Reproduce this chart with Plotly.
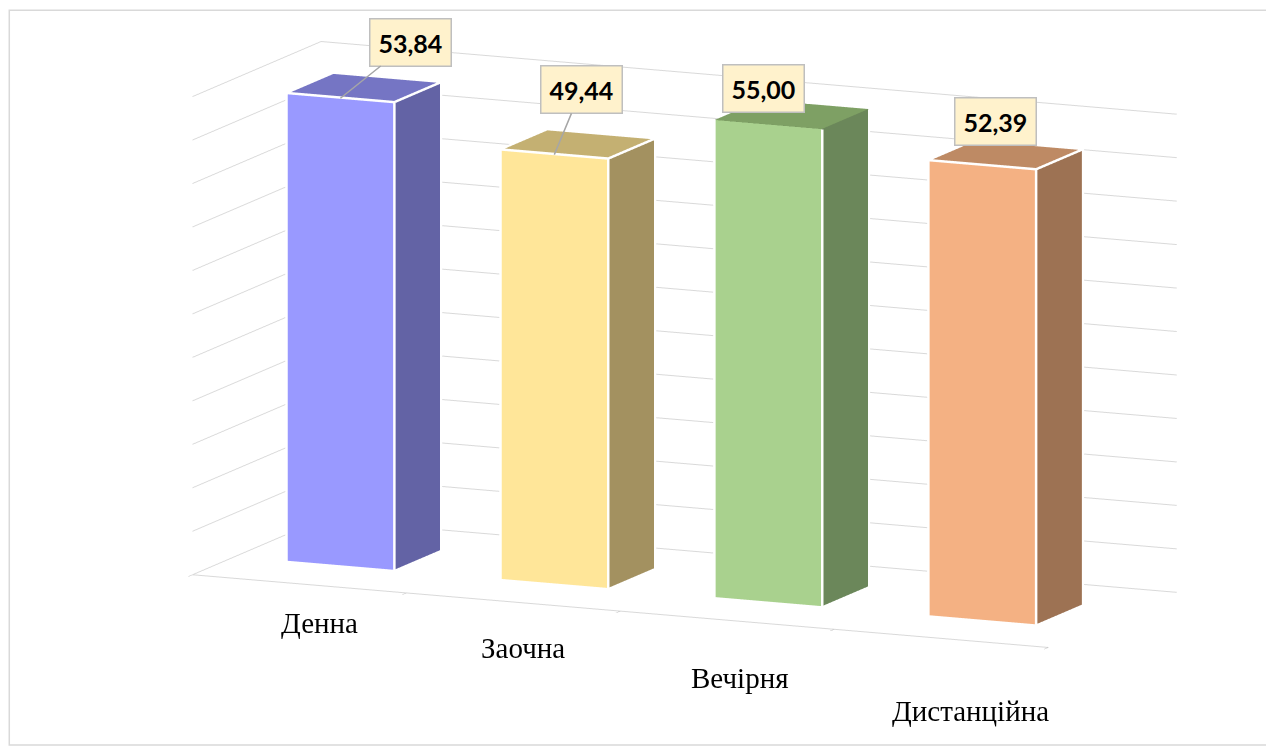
import math
import plotly.graph_objects as go

categories = ["Денна", "Заочна", "Вечірня", "Дистанційна"]
values = [53.84, 49.44, 55.00, 52.39]
value_labels = ["53,84", "49,44", "55,00", "52,39"]
front_colors = ["#9999FF", "#FFE699", "#A9D18E", "#F4B183"]
side_colors = ["#6363A5", "#A39160", "#6B875A", "#9D7253"]
top_colors = ["#7575C4", "#C4B072", "#7EA064", "#BE8A64"]

z_max = 55
z_step = 5
half_w = 0.25
depth_total = 1.35
y0b, y1b = 0.43, 0.92

fig = go.Figure()

for i, (cat, v) in enumerate(zip(categories, values)):
    xc = i + 1
    x0, x1 = xc - half_w, xc + half_w
    xs = [x0, x1, x1, x0, x0, x1, x1, x0]
    ys = [y0b, y0b, y1b, y1b, y0b, y0b, y1b, y1b]
    zs = [0, 0, 0, 0, v, v, v, v]
    tri = [
        (0, 1, 5, front_colors[i]), (0, 5, 4, front_colors[i]),
        (1, 2, 6, side_colors[i]), (1, 6, 5, side_colors[i]),
        (4, 5, 6, top_colors[i]), (4, 6, 7, top_colors[i]),
        (0, 3, 7, side_colors[i]), (0, 7, 4, side_colors[i]),
        (3, 2, 6, side_colors[i]), (3, 6, 7, side_colors[i]),
        (0, 1, 2, side_colors[i]), (0, 2, 3, side_colors[i]),
    ]
    fig.add_trace(go.Mesh3d(
        x=xs, y=ys, z=zs,
        i=[t[0] for t in tri], j=[t[1] for t in tri], k=[t[2] for t in tri],
        facecolor=[t[3] for t in tri],
        flatshading=True,
        lighting=dict(ambient=1, diffuse=0, specular=0, roughness=1, fresnel=0),
        hoverinfo="skip", showscale=False,
    ))
    path = [0, 1, 5, 4, 0, None, 4, 5, 6, 7, 4, None, 1, 2, 6]
    ex = [xs[p] + (0.004 if p in (1, 2, 5, 6) else 0) if p is not None else None for p in path]
    ey = [ys[p] - 0.004 if p is not None else None for p in path]
    ez = [zs[p] + (0.1 if zs[p] > 0 else 0) if p is not None else None for p in path]
    fig.add_trace(go.Scatter3d(
        x=ex, y=ey, z=ez, mode="lines",
        line=dict(color="white", width=5),
        hoverinfo="skip", showlegend=False,
    ))

label_offsets = [(70, -56), (27, -65), (-5, -36), (13, -44)]
arrow_cols = ["#A6A6A6", "#A6A6A6", "rgba(0,0,0,0)", "rgba(0,0,0,0)"]
cat_shifts = [(20, -39), (10, -46), (13, -58), (29, -73)]
annotations = []
for i, v in enumerate(values):
    ax, ay = label_offsets[i]
    annotations.append(dict(
        x=i + 1, y=y0b, z=v,
        text="<b>" + value_labels[i] + "</b>",
        showarrow=True, arrowhead=0, arrowwidth=1.5, arrowcolor=arrow_cols[i],
        ax=ax, ay=ay,
        bgcolor="#FFF2CC", bordercolor="#BFBFBF", borderwidth=1.5, borderpad=8,
        font=dict(family="Lato, Open Sans, sans-serif", size=25, color="black"),
    ))
for i, cat in enumerate(categories):
    xs_, ys_ = cat_shifts[i]
    annotations.append(dict(
        x=i + 1, y=0, z=0, text=cat, showarrow=False, xshift=xs_, yshift=ys_,
        font=dict(family="Liberation Serif, Times New Roman, serif", size=29, color="black"),
    ))

axis_common = dict(showbackground=False, showspikes=False, title=dict(text=""),
                   zeroline=False)

phi = math.radians(24)
theta = math.radians(11)
dist = 2.5
shift = dict(x=-0.097, y=-0.043, z=-0.101)
eye = dict(x=dist * math.sin(phi) * math.cos(theta) + shift["x"],
           y=-dist * math.cos(phi) * math.cos(theta) + shift["y"],
           z=dist * math.sin(theta) + shift["z"])

k = 0.627
fig.update_layout(
    width=1274, height=747,
    margin=dict(l=0, r=0, t=0, b=0),
    paper_bgcolor="white",
    showlegend=False,
    scene=dict(
        domain=dict(x=[0, 1], y=[0, 1]),
        xaxis=dict(range=[0.5, 4.5], showgrid=False, showline=True, linecolor="#D9D9D9",
                   linewidth=2, tickvals=[0.5, 1.5, 2.5, 3.5, 4.5], ticktext=[""] * 5,
                   ticks="outside", ticklen=20, tickwidth=2, tickcolor="#BFBFBF",
                   **axis_common),
        yaxis=dict(range=[0, depth_total], showgrid=False, showline=False,
                   showticklabels=False, ticks="", **axis_common),
        zaxis=dict(range=[0, z_max], dtick=z_step, showgrid=True, gridcolor="#D9D9D9",
                   gridwidth=2, showline=False, showticklabels=False, ticks="",
                   **axis_common),
        aspectmode="manual",
        aspectratio=dict(x=4 * k, y=depth_total * k, z=2.08 * k),
        camera=dict(eye=eye, center=shift,
                    up=dict(x=0, y=0, z=1), projection=dict(type="orthographic")),
        annotations=annotations,
    ),
    shapes=[dict(type="rect", xref="paper", yref="paper", x0=0.001, x1=0.992,
                 y0=0.0134, y1=0.997, line=dict(color="#D9D9D9", width=1.5))],
)

fig.write_html("out.html")
